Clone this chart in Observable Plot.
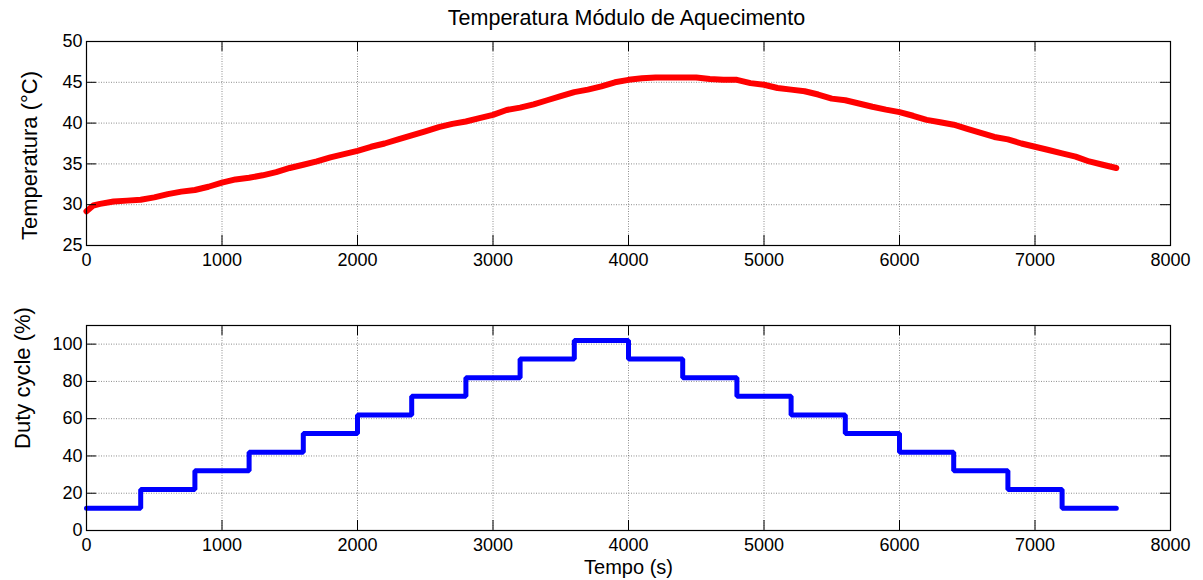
<!DOCTYPE html>
<html>
<head>
<meta charset="utf-8">
<script src="https://cdn.jsdelivr.net/npm/d3@7"></script>
<script src="https://cdn.jsdelivr.net/npm/@observablehq/plot@0.6"></script>
<style>
  html, body { margin: 0; padding: 0; background: #fff; }
  #wrap { position: relative; width: 1203px; height: 580px; background: #fff; }
  #topPanel, #bottomPanel { position: absolute; left: 0; }
  #topPanel { top: 0; }
  #bottomPanel { top: 290px; }
</style>
</head>
<body>
<div id="wrap"><div id="topPanel"></div><div id="bottomPanel"></div></div>
<script>
const title = "Temperatura Módulo de Aquecimento";
const yLabelTemp = "Temperatura (°C)";
const yLabelDuty = "Duty cycle (%)";
const xLabel = "Tempo (s)";

const xTicks = [0, 1000, 2000, 3000, 4000, 5000, 6000, 7000, 8000];
const tempTicks = [25, 30, 35, 40, 45, 50];
const dutyTicks = [0, 20, 40, 60, 80, 100];

const tempTime = [0, 50, 100, 200, 300, 400, 500, 600, 700, 800, 900, 1000, 1100, 1200, 1300, 1400, 1500, 1600, 1700, 1800, 1900, 2000, 2100, 2200, 2300, 2400, 2500, 2600, 2700, 2800, 2900, 3000, 3100, 3200, 3300, 3400, 3500, 3600, 3700, 3800, 3900, 4000, 4100, 4200, 4300, 4400, 4500, 4600, 4700, 4800, 4900, 5000, 5100, 5200, 5300, 5400, 5500, 5600, 5700, 5800, 5900, 6000, 6100, 6200, 6300, 6400, 6500, 6600, 6700, 6800, 6900, 7000, 7100, 7200, 7300, 7400, 7500, 7600];
const tempValues = [29.2, 29.9, 30.1, 30.4, 30.5, 30.6, 30.9, 31.3, 31.6, 31.8, 32.2, 32.7, 33.1, 33.3, 33.6, 34.0, 34.5, 34.9, 35.3, 35.8, 36.2, 36.6, 37.1, 37.5, 38.0, 38.5, 39.0, 39.5, 39.9, 40.2, 40.6, 41.0, 41.6, 41.9, 42.3, 42.8, 43.3, 43.8, 44.1, 44.5, 45.0, 45.3, 45.5, 45.6, 45.6, 45.6, 45.6, 45.4, 45.3, 45.3, 44.9, 44.7, 44.3, 44.1, 43.9, 43.5, 43.0, 42.8, 42.4, 42.0, 41.65, 41.35, 40.9, 40.4, 40.1, 39.8, 39.3, 38.8, 38.3, 38.0, 37.5, 37.1, 36.7, 36.3, 35.9, 35.3, 34.9, 34.5];

const dutyTime = [0, 400, 800, 1200, 1600, 2000, 2400, 2800, 3200, 3600, 4000, 4400, 4800, 5200, 5600, 6000, 6400, 6800, 7200, 7600];
const dutyValues = [12, 22, 32, 42, 52, 62, 72, 82, 92, 102, 92, 82, 72, 62, 52, 42, 32, 22, 12, 12];

const tempData = tempTime.map((t, i) => ({t, v: tempValues[i]}));
const dutyData = dutyTime.map((t, i) => ({t, v: dutyValues[i]}));

const W = 1203;
const font = "'Liberation Sans', Arial, Helvetica, sans-serif";
const gridStyle = {stroke: "#000", strokeOpacity: 0.45, strokeDasharray: "1,1.5", strokeWidth: 1};
const TICK = 10;

function panel({height, marginTop, marginBottom, yDomain, yTicks, marks}) {
  const innerH = height - marginTop - marginBottom;
  const innerW = W - 86 - 33;
  return Plot.plot({
    width: W,
    height,
    marginLeft: 86,
    marginRight: 33,
    marginTop,
    marginBottom,
    style: {fontFamily: font, fontSize: "18px", color: "#000", background: "#fff", overflow: "visible"},
    x: {domain: [0, 8000]},
    y: {domain: yDomain},
    marks: [
      Plot.gridX({ticks: xTicks, ...gridStyle}),
      Plot.gridY({ticks: yTicks, ...gridStyle}),
      ...marks,
      Plot.ruleX(xTicks, {x: d => d, insetTop: innerH - TICK, stroke: "#000"}),
      Plot.ruleX(xTicks, {x: d => d, insetBottom: innerH - TICK, stroke: "#000"}),
      Plot.ruleY(yTicks, {y: d => d, insetRight: innerW - TICK, stroke: "#000"}),
      Plot.ruleY(yTicks, {y: d => d, insetLeft: innerW - TICK, stroke: "#000"}),
      Plot.frame({stroke: "#000", strokeWidth: 1.2}),
      Plot.axisX({ticks: xTicks, tickSize: 0, tickPadding: 8, tickFormat: d => String(d), label: null}),
      Plot.axisY({ticks: yTicks, tickSize: 0, tickPadding: 4, tickFormat: d => String(d), label: null})
    ]
  });
}

const topChart = panel({
  height: 280, marginTop: 41, marginBottom: 35,
  yDomain: [25, 50], yTicks: tempTicks,
  marks: [
    Plot.line(tempData, {x: "t", y: "v", stroke: "#ff0000", strokeWidth: 6}),
    Plot.text([title], {text: d => d, frameAnchor: "top", lineAnchor: "middle", dy: -23, dx: -2, fontSize: 21.5}),
    Plot.text([yLabelTemp], {text: d => d, frameAnchor: "left", textAnchor: "middle", lineAnchor: "middle", dx: -57, dy: 12, rotate: -90, fontSize: 22})
  ]
});

const bottomChart = panel({
  height: 290, marginTop: 35, marginBottom: 50,
  yDomain: [0, 110], yTicks: dutyTicks,
  marks: [
    Plot.line(dutyData, {x: "t", y: "v", curve: "step-after", stroke: "#0000ff", strokeWidth: 5, strokeLinejoin: "miter"}),
    Plot.text([yLabelDuty], {text: d => d, frameAnchor: "left", textAnchor: "middle", lineAnchor: "middle", dx: -64, dy: -50, rotate: -90, fontSize: 22}),
    Plot.text([xLabel], {text: d => d, frameAnchor: "bottom", lineAnchor: "middle", dy: 37, fontSize: 20})
  ]
});

document.getElementById("topPanel").appendChild(topChart);
document.getElementById("bottomPanel").appendChild(bottomChart);
</script>
</body>
</html>
